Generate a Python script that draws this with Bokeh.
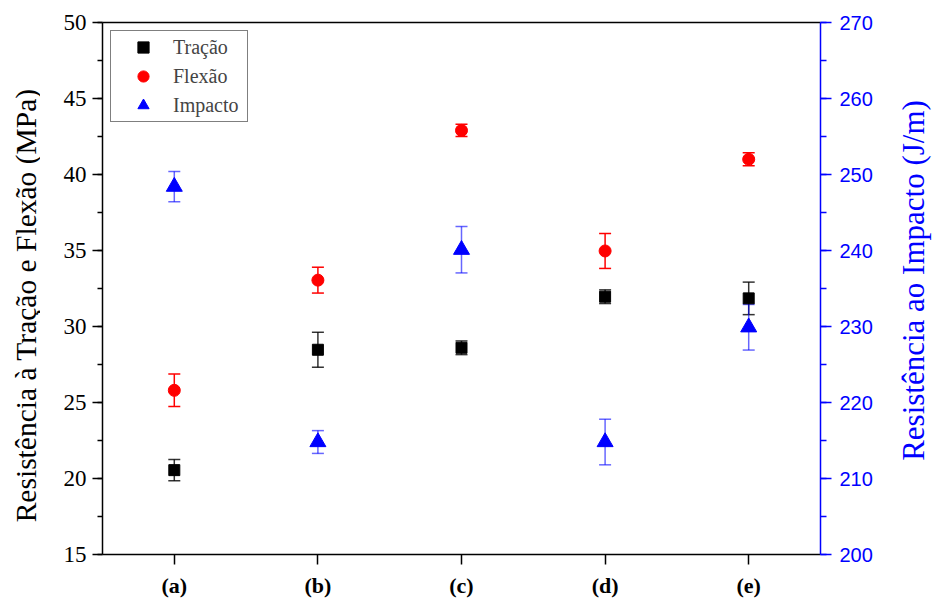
import math
from bokeh.plotting import figure
from bokeh.layouts import row
from bokeh.core.properties import value
from bokeh.models import (FactorRange, Range1d, LinearAxis, ColumnDataSource, Whisker,
                          TeeHead, SingleIntervalTicker, FixedTicker, Legend, LegendItem)
from bokeh.embed import file_html
from bokeh.resources import INLINE

categories = ["(a)", "(b)", "(c)", "(d)", "(e)"]
tracao = [20.55, 28.47, 28.6, 31.96, 31.85]
tracao_err = [0.7, 1.15, 0.45, 0.45, 1.07]
flexao = [25.8, 33.05, 42.9, 34.97, 41.0]
flexao_err = [1.07, 0.85, 0.4, 1.15, 0.43]
impacto = [248.4, 214.8, 240.1, 214.8, 229.9]
impacto_err = [2.0, 1.5, 3.05, 3.0, 3.0]
left_title = "Resistência à Tração e Flexão (MPa)"
right_title = "Resistência ao Impacto (J/m)"

SERIF = "Liberation Serif"
SANS = "Liberation Sans"

p = figure(width=852, height=600, x_range=FactorRange(factors=categories),
           y_range=Range1d(15, 50), output_backend="svg", toolbar_location=None,
           min_border_left=62, min_border_right=72, min_border_top=22, min_border_bottom=42)
p.extra_y_ranges = {"imp": Range1d(200, 270)}
p.grid.visible = False
p.outline_line_color = None
p.background_fill_color = "white"
p.border_fill_color = "white"

def src(vals, errs):
    return ColumnDataSource(dict(x=categories, y=vals,
                                 lo=[v - e for v, e in zip(vals, errs)],
                                 hi=[v + e for v, e in zip(vals, errs)]))

s_t = src(tracao, tracao_err)
s_f = src(flexao, flexao_err)
s_i = src(impacto, impacto_err)

def whisk(s, color, alpha, y_range_name="default"):
    w = Whisker(source=s, base="x", upper="hi", lower="lo",
                line_color=color, line_width=1.5, line_alpha=alpha,
                upper_head=TeeHead(size=12, line_color=color, line_width=1.5, line_alpha=alpha),
                lower_head=TeeHead(size=12, line_color=color, line_width=1.5, line_alpha=alpha),
                y_range_name=y_range_name)
    p.add_layout(w)

whisk(s_t, "black", 0.8)
whisk(s_f, "red", 1.0)
whisk(s_i, "blue", 0.6, "imp")

r_t = p.scatter("x", "y", source=s_t, marker="square", size=11, color="black")
r_f = p.scatter("x", "y", source=s_f, marker="circle", size=12, color="red")
r_i = p.scatter("x", "y", source=s_i, marker="triangle", size=16, color="blue", y_range_name="imp")

# left axis
la = p.left[0]
la.ticker = SingleIntervalTicker(interval=5, num_minor_ticks=2)
la.major_label_text_font = SERIF
la.major_label_text_font_size = "23px"
la.major_label_text_font_style = "normal"
la.major_label_text_color = "black"
la.major_label_standoff = 6
la.axis_line_width = 1.5
la.major_tick_line_width = 1.5
la.minor_tick_line_width = 1.5
la.major_tick_out = 10
la.major_tick_in = 0
la.minor_tick_out = 5
la.minor_tick_in = 0

# bottom axis
ba = p.below[0]
ba.major_label_text_font = SERIF
ba.major_label_text_font_size = "22px"
ba.major_label_text_font_style = "bold"
ba.major_label_text_color = "black"
ba.axis_line_width = 1.5
ba.major_tick_line_width = 1.5
ba.major_tick_out = 10
ba.major_tick_in = 0
ba.major_label_standoff = 8

# right axis
ra = LinearAxis(y_range_name="imp", ticker=SingleIntervalTicker(interval=10, num_minor_ticks=2))
ra.major_label_text_font = SANS
ra.major_label_text_font_size = "20px"
ra.major_label_text_color = "blue"
ra.major_label_standoff = 8
ra.axis_line_color = "blue"
ra.major_tick_line_color = "blue"
ra.minor_tick_line_color = "blue"
ra.axis_line_width = 1.5
ra.major_tick_line_width = 1.5
ra.minor_tick_line_width = 1.5
ra.major_tick_out = 11
ra.major_tick_in = 0
ra.minor_tick_out = 6
ra.minor_tick_in = 0
p.add_layout(ra, "right")

# top border
ta = LinearAxis(ticker=FixedTicker(ticks=[]), major_tick_line_color=None,
                minor_tick_line_color=None, axis_line_width=1.5)
p.add_layout(ta, "above")

legend = Legend(items=[LegendItem(label="Tração", renderers=[r_t]),
                       LegendItem(label="Flexão", renderers=[r_f]),
                       LegendItem(label="Impacto", renderers=[r_i])],
                location="top_left", margin=8, padding=2, spacing=1,
                glyph_width=60, glyph_height=28, label_height=28, label_standoff=0,
                label_width=72,
                label_text_font=SERIF, label_text_font_size="20px",
                border_line_color="black", border_line_width=1,
                background_fill_alpha=1.0)
p.add_layout(legend)

def title_strip(w, x, y, text, size, color):
    f = figure(width=w, height=600, x_range=Range1d(0, w), y_range=Range1d(0, 600),
               output_backend="svg", toolbar_location=None,
               min_border_left=0, min_border_right=0, min_border_top=0, min_border_bottom=0)
    f.axis.visible = False
    f.grid.visible = False
    f.outline_line_color = None
    f.background_fill_color = "white"
    f.border_fill_color = "white"
    f.text(x=[x], y=[y], text=[text], angle=math.pi / 2,
           text_align="center", text_baseline="middle",
           text_font=value(SERIF), text_font_size=value(size), text_color=color)
    return f

p0 = title_strip(40, 25, 281, left_title, "29.5px", "black")
p2 = title_strip(40, 21, 309, right_title, "31px", "blue")

layout = row(p0, p, p2, spacing=0)
open("out.html", "w").write(file_html(layout, INLINE))
